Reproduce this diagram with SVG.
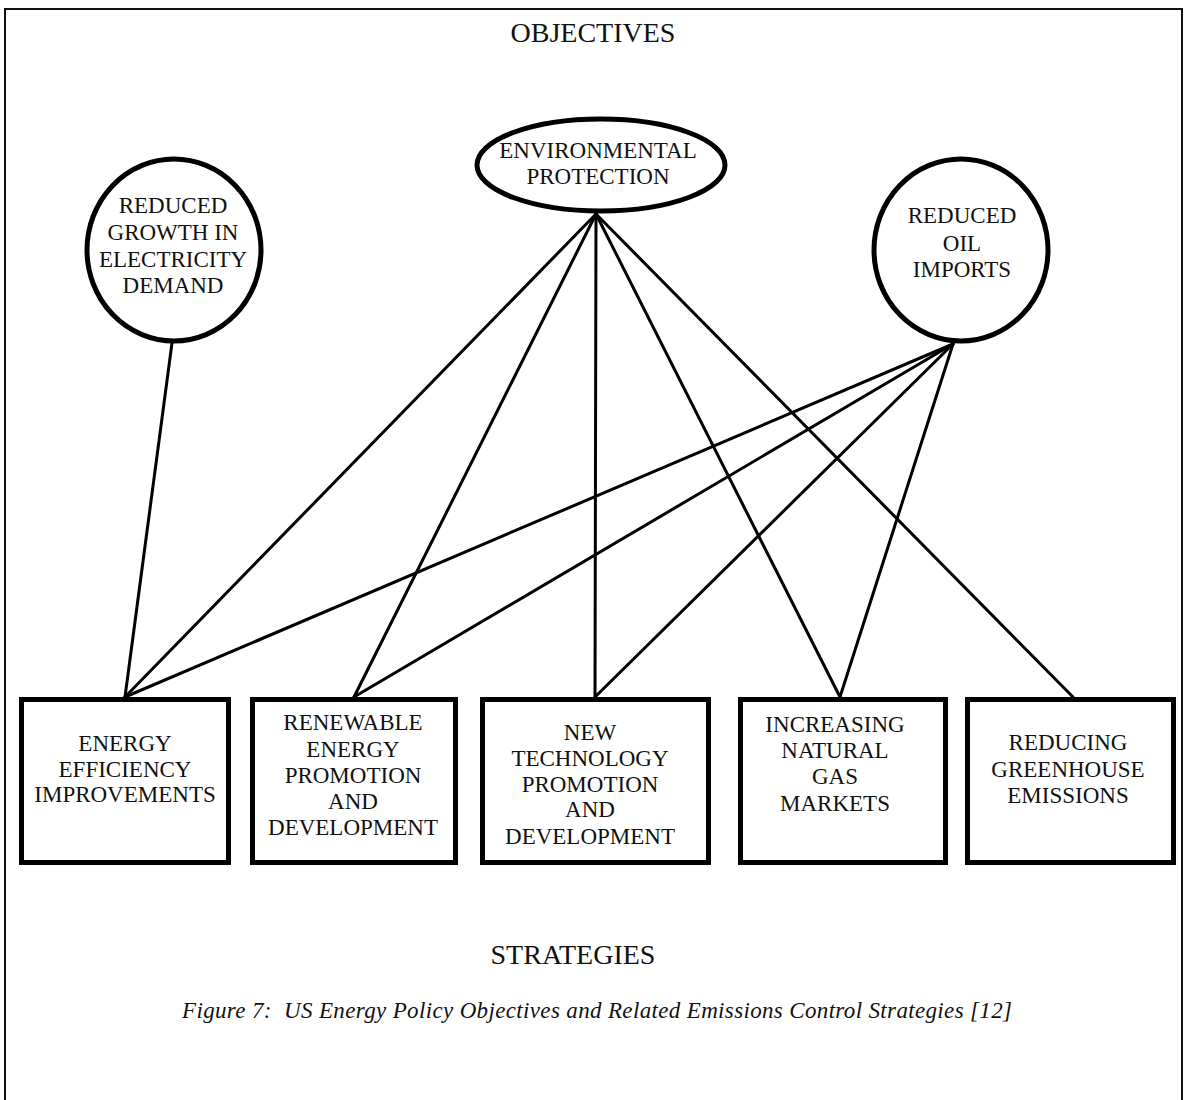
<svg xmlns="http://www.w3.org/2000/svg" width="1187" height="1100" viewBox="0 0 1187 1100">
<style>
text{font-family:"Liberation Serif","Times New Roman",serif;fill:#111;text-anchor:middle}
.t{font-size:23px}
.h{font-size:28px}
.cap{font-size:23px;font-style:italic}
.obj{fill:#fff;stroke:#000;stroke-width:5}
.box{fill:#fff;stroke:#000;stroke-width:5}
.con line{stroke:#000;stroke-width:3;stroke-linecap:round}
</style>
<rect width="1187" height="1100" fill="#fff"/>
<path d="M5 1100 V9 H1182 V1100" fill="none" stroke="#111" stroke-width="2"/>
<text class="h" x="593" y="42">OBJECTIVES</text>
<text class="h" x="573" y="964">STRATEGIES</text>
<text class="cap" x="597" y="1018" textLength="830" lengthAdjust="spacing">Figure 7:&#160; US Energy Policy Objectives and Related Emissions Control Strategies [12]</text>
<g id="connectors" class="con">
<line x1="172" y1="343" x2="125" y2="697"/>
<line x1="596" y1="214" x2="125" y2="697"/>
<line x1="596" y1="214" x2="354" y2="697"/>
<line x1="596" y1="214" x2="595" y2="697"/>
<line x1="596" y1="214" x2="840" y2="697"/>
<line x1="596" y1="214" x2="1073" y2="697"/>
<line x1="953" y1="344" x2="125" y2="697"/>
<line x1="953" y1="344" x2="354" y2="697"/>
<line x1="953" y1="344" x2="595" y2="697"/>
<line x1="953" y1="344" x2="840" y2="697"/>
</g>
<g id="obj-electricity">
<ellipse class="obj" cx="174" cy="250" rx="87" ry="91"/>
<text class="t" x="173" y="213">REDUCED</text>
<text class="t" x="173" y="240">GROWTH IN</text>
<text class="t" x="173" y="267">ELECTRICITY</text>
<text class="t" x="173" y="293">DEMAND</text>
</g>
<g id="obj-environment">
<ellipse class="obj" cx="601" cy="165" rx="124" ry="46"/>
<text class="t" x="598" y="158">ENVIRONMENTAL</text>
<text class="t" x="598" y="184">PROTECTION</text>
</g>
<g id="obj-oil">
<ellipse class="obj" cx="961" cy="250" rx="87" ry="91"/>
<text class="t" x="962" y="223">REDUCED</text>
<text class="t" x="962" y="251">OIL</text>
<text class="t" x="962" y="277">IMPORTS</text>
</g>
<g id="str-efficiency">
<rect class="box" x="21.5" y="699.5" width="207" height="163"/>
<text class="t" x="125" y="751">ENERGY</text>
<text class="t" x="125" y="777">EFFICIENCY</text>
<text class="t" x="125" y="802">IMPROVEMENTS</text>
</g>
<g id="str-renewable">
<rect class="box" x="252.5" y="699.5" width="203" height="163"/>
<text class="t" x="353" y="730">RENEWABLE</text>
<text class="t" x="353" y="757">ENERGY</text>
<text class="t" x="353" y="783">PROMOTION</text>
<text class="t" x="353" y="809">AND</text>
<text class="t" x="353" y="835">DEVELOPMENT</text>
</g>
<g id="str-technology">
<rect class="box" x="482.5" y="699.5" width="226" height="163"/>
<text class="t" x="590" y="740">NEW</text>
<text class="t" x="590" y="766">TECHNOLOGY</text>
<text class="t" x="590" y="792">PROMOTION</text>
<text class="t" x="590" y="817">AND</text>
<text class="t" x="590" y="844">DEVELOPMENT</text>
</g>
<g id="str-gas">
<rect class="box" x="740.5" y="699.5" width="205" height="163"/>
<text class="t" x="835" y="732">INCREASING</text>
<text class="t" x="835" y="758">NATURAL</text>
<text class="t" x="835" y="784">GAS</text>
<text class="t" x="835" y="811">MARKETS</text>
</g>
<g id="str-greenhouse">
<rect class="box" x="967.5" y="699.5" width="206" height="163"/>
<text class="t" x="1068" y="750">REDUCING</text>
<text class="t" x="1068" y="777">GREENHOUSE</text>
<text class="t" x="1068" y="803">EMISSIONS</text>
</g>
</svg>
